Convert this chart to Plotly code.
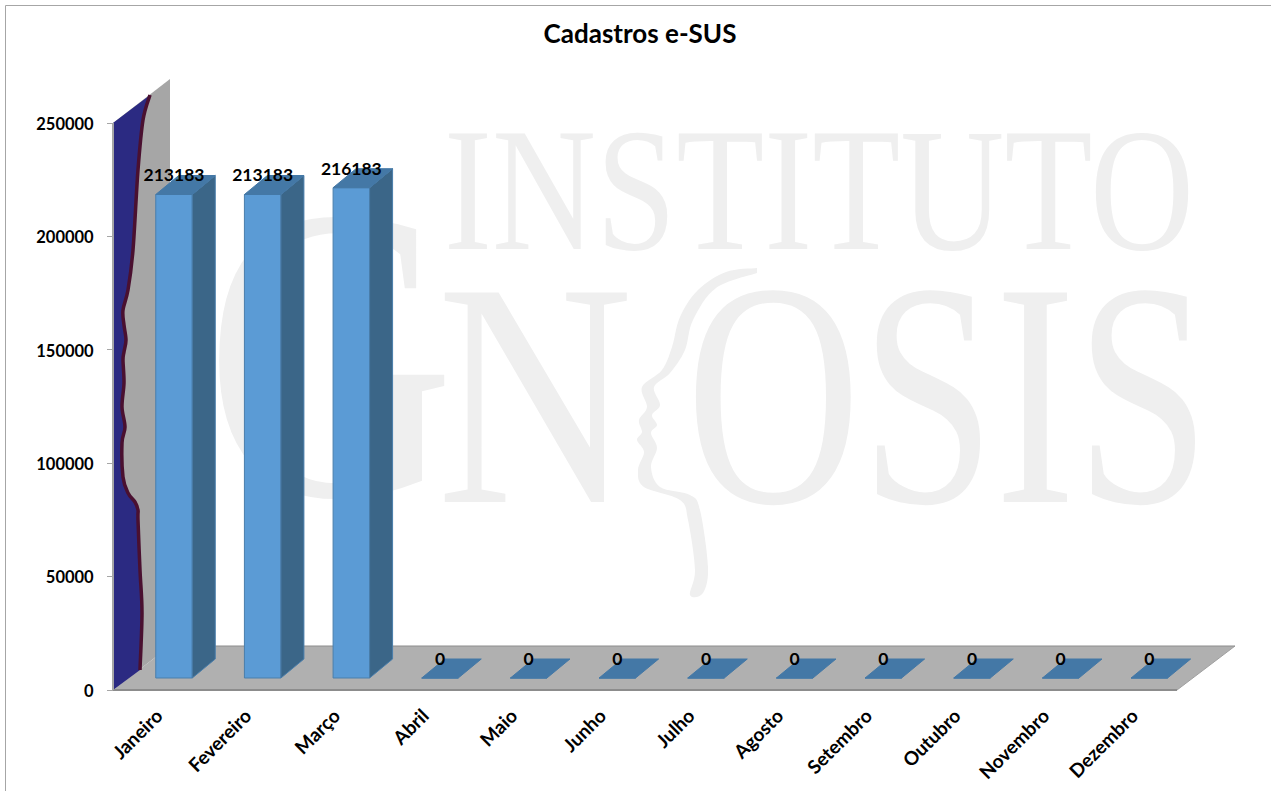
import json
import plotly.graph_objects as go

# ---- data ----
months = ["Janeiro", "Fevereiro", "Março", "Abril", "Maio", "Junho", "Julho",
          "Agosto", "Setembro", "Outubro", "Novembro", "Dezembro"]
cadastros = [213183, 213183, 216183, 0, 0, 0, 0, 0, 0, 0, 0, 0]
y_ticks = [0, 50000, 100000, 150000, 200000, 250000]
title_text = "Cadastros e-SUS"

# ---- watermark words: text -> rendered width in px (condensed serif lettering) ----
wm_widths = {"INSTITUTO": 750, "G": 250, "N": 196, "OSIS": 524}

# ---- geometry of the pseudo-3D frame (figure pixels) ----
W, H = 1271, 791
FONT = "Lato"
INK = "#000000"
PX_X0, PX_STEP = 157.3, 88.67     # centre of first category, category spacing
PX_Y0, PX_Y250 = 690.0, 123.0     # value 0 and value 250000
VAL_PER_PX = 250000 / (PX_Y0 - PX_Y250)
BASE = 12 * VAL_PER_PX            # bars stand 12 px up the floor
BAR_OFF = 16.7 / PX_STEP          # bars shifted 16.7 px into the floor
BAR_W = 36.5 / PX_STEP
DEPTH_X = 23 / PX_STEP
DEPTH_Y = 19 * VAL_PER_PX

idx = list(range(len(months)))
x_range = [-PX_X0 / PX_STEP, (W - PX_X0) / PX_STEP]
y_range = [(PX_Y0 - H) * VAL_PER_PX, PX_Y0 * VAL_PER_PX]

fig = go.Figure()

# watermark on the lower subplot, so that the bars cover it
def watermark(word, cx, cy, size):
    fig.add_trace(go.Scatter(x=[cx], y=[cy], text=[word], mode="text",
                             textfont=dict(family="Liberation Serif", size=size, color="#EFEFEF"),
                             textposition="middle center", hoverinfo="skip", showlegend=False))

watermark("INSTITUTO", 819, 205, 175)
watermark("G", 330, 390, 420)
watermark("N", 535, 422, 320)
watermark("OSIS", 948, 422, 320)

# front faces
fig.add_trace(go.Bar(x=[i + BAR_OFF for i in idx], y=cadastros, base=BASE, width=BAR_W,
                     marker=dict(color="#5B9BD5", line=dict(color="#4A7EAB", width=1)),
                     xaxis="x2", yaxis="y2", showlegend=False, hoverinfo="skip"))

# side and top faces built from the values
side_x, side_y, top_x, top_y = [], [], [], []
for i, v in zip(idx, cadastros):
    xl = i + BAR_OFF - BAR_W / 2
    xr = i + BAR_OFF + BAR_W / 2
    t = BASE + v
    if v > 0:
        side_x += [xr, xr + DEPTH_X, xr + DEPTH_X, xr, xr, None]
        side_y += [BASE, BASE + DEPTH_Y, t + DEPTH_Y, t, BASE, None]
    top_x += [xl, xl + DEPTH_X, xr + DEPTH_X, xr, xl, None]
    top_y += [t, t + DEPTH_Y, t + DEPTH_Y, t, t, None]
fig.add_trace(go.Scatter(x=side_x, y=side_y, mode="lines", fill="toself", fillcolor="#3B6688",
                         line=dict(color="#4A7EAB", width=1), xaxis="x2", yaxis="y2",
                         showlegend=False, hoverinfo="skip"))
fig.add_trace(go.Scatter(x=top_x, y=top_y, mode="lines", fill="toself", fillcolor="#4478A6",
                         line=dict(color="#4478A6", width=1), xaxis="x2", yaxis="y2",
                         showlegend=False, hoverinfo="skip"))

# data labels
fig.add_trace(go.Scatter(x=[i + BAR_OFF for i in idx],
                         y=[BASE + v + 17.5 * VAL_PER_PX for v in cadastros],
                         text=[str(v) for v in cadastros], mode="text",
                         textfont=dict(family=FONT, size=17.5, color=INK, weight="bold"),
                         textposition="middle center", xaxis="x2", yaxis="y2",
                         showlegend=False, hoverinfo="skip"))

def smooth(pts):
    """Catmull-Rom curve through the points, as SVG path segments."""
    d = f"M {pts[0][0]},{pts[0][1]}"
    for k in range(len(pts) - 1):
        p0 = pts[max(k - 1, 0)]
        p1, p2 = pts[k], pts[k + 1]
        p3 = pts[min(k + 2, len(pts) - 1)]
        c1 = (p1[0] + (p2[0] - p0[0]) / 6, p1[1] + (p2[1] - p0[1]) / 6)
        c2 = (p2[0] - (p3[0] - p1[0]) / 6, p2[1] - (p3[1] - p1[1]) / 6)
        d += f" C {c1[0]:.1f},{c1[1]:.1f} {c2[0]:.1f},{c2[1]:.1f} {p2[0]},{p2[1]}"
    return d

def poly(pts):
    return "M " + " L ".join(f"{a},{b}" for a, b in pts) + " Z"

edge = [(150, 95), (143, 120), (138, 170), (133, 250), (128, 290), (123, 310), (124, 325),
        (126, 340), (124, 352), (123, 360), (124, 383), (122, 407), (125, 427), (122, 443),
        (123, 477), (128, 493), (135, 502), (138, 510), (138, 520), (140, 570), (142, 613),
        (140, 670)]
face = [(757, 268), (726, 272), (698, 290), (680, 317), (672, 347), (662, 370), (642, 387),
        (647, 407), (639, 420), (642, 432), (637, 440), (644, 452), (638, 470), (644, 487),
        (680, 500), (688, 520), (695, 570), (690, 595), (703, 593), (708, 567), (700, 510),
        (690, 495), (660, 487), (651, 467), (657, 448), (651, 433), (657, 425), (652, 415),
        (660, 405), (654, 387), (670, 373), (685, 350), (693, 320), (716, 288), (757, 273)]

def shape(path, fill, line=None, width=0):
    return dict(type="path", path=path, xref="x", yref="y", layer="below",
                fillcolor=fill, line=dict(color=line or fill, width=width))

def seg(x0, y0, x1, y1, color, width=1):
    return dict(type="line", x0=x0, y0=y0, x1=x1, y1=y1, xref="x", yref="y", layer="below",
                line=dict(color=color, width=width))

blue_path = smooth(edge) + " L 113,690 L 113,123 Z"
shapes = [
    shape(smooth(face) + " Z", "#EFEFEF"),
    shape(poly([(113, 123), (170, 79), (170, 646), (113, 690)]), "#A6A6A6"),
    shape(poly([(113, 690), (170, 646), (1235, 646), (1177, 690)]), "#B0B0B0"),
    shape(blue_path, "#2B2A82"),
    dict(type="path", path=smooth(edge), xref="x", yref="y", layer="below",
         line=dict(color="#4A1030", width=3.5)),
    seg(113, 690, 1177, 690, "#8C8C8C", 2),
    seg(1177, 690, 1235, 646, "#A0A0A0"),
    seg(170, 646, 1235, 646, "#8C8C8C"),
    seg(113, 123, 113, 690, "#A6A6A6", 2),
    seg(5.5, 5.5, 1271, 5.5, "#A6A6A6", 1),
    seg(5.5, 5.5, 5.5, 791, "#A6A6A6", 1),
]

fig.update_layout(
    width=W, height=H, autosize=False,
    margin=dict(l=0, r=0, t=0, b=0),
    paper_bgcolor="#FFFFFF", plot_bgcolor="rgba(0,0,0,0)",
    showlegend=False, barmode="overlay", shapes=shapes,
    font=dict(family=FONT, color=INK),
    title=dict(text=title_text, x=640 / W, y=1 - 34 / H, xanchor="center", yanchor="middle",
               font=dict(family=FONT, size=26, color=INK, weight="bold")),
    xaxis=dict(range=[0, W], domain=[0, 1], visible=False, fixedrange=True),
    yaxis=dict(range=[H, 0], domain=[0, 1], visible=False, fixedrange=True),
    xaxis2=dict(range=x_range, domain=[0, 1], overlaying="x", anchor="free",
                position=(H - PX_Y0) / H, tickmode="array", tickvals=idx, ticktext=months,
                tickangle=-45, showgrid=False, zeroline=False, showline=False, ticks="",
                ticklabelstandoff=10,
                tickfont=dict(family=FONT, size=19, color=INK, weight="bold")),
    yaxis2=dict(range=y_range, domain=[0, 1], overlaying="y", anchor="free",
                position=113 / W, tickmode="array", tickvals=y_ticks,
                ticktext=[str(t) for t in y_ticks], showgrid=False, zeroline=False,
                showline=False, ticks="outside", ticklen=6,
                tickcolor="#A6A6A6", ticklabelstandoff=10, ticklabelshift=1,
                tickfont=dict(family=FONT, size=16.5, color=INK, weight="bold")),
)

# the reference lettering is condensed: fit each watermark word to its measured width
post = """
document.body.style.margin = '0';
var widths = %s;
document.querySelectorAll('.textpoint text').forEach(function (el) {
  var w = widths[el.textContent];
  if (w) { el.setAttribute('textLength', w); el.setAttribute('lengthAdjust', 'spacingAndGlyphs'); }
});
""" % json.dumps(wm_widths)
fig.write_html("out.html", config=dict(displayModeBar=False), post_script=post)
